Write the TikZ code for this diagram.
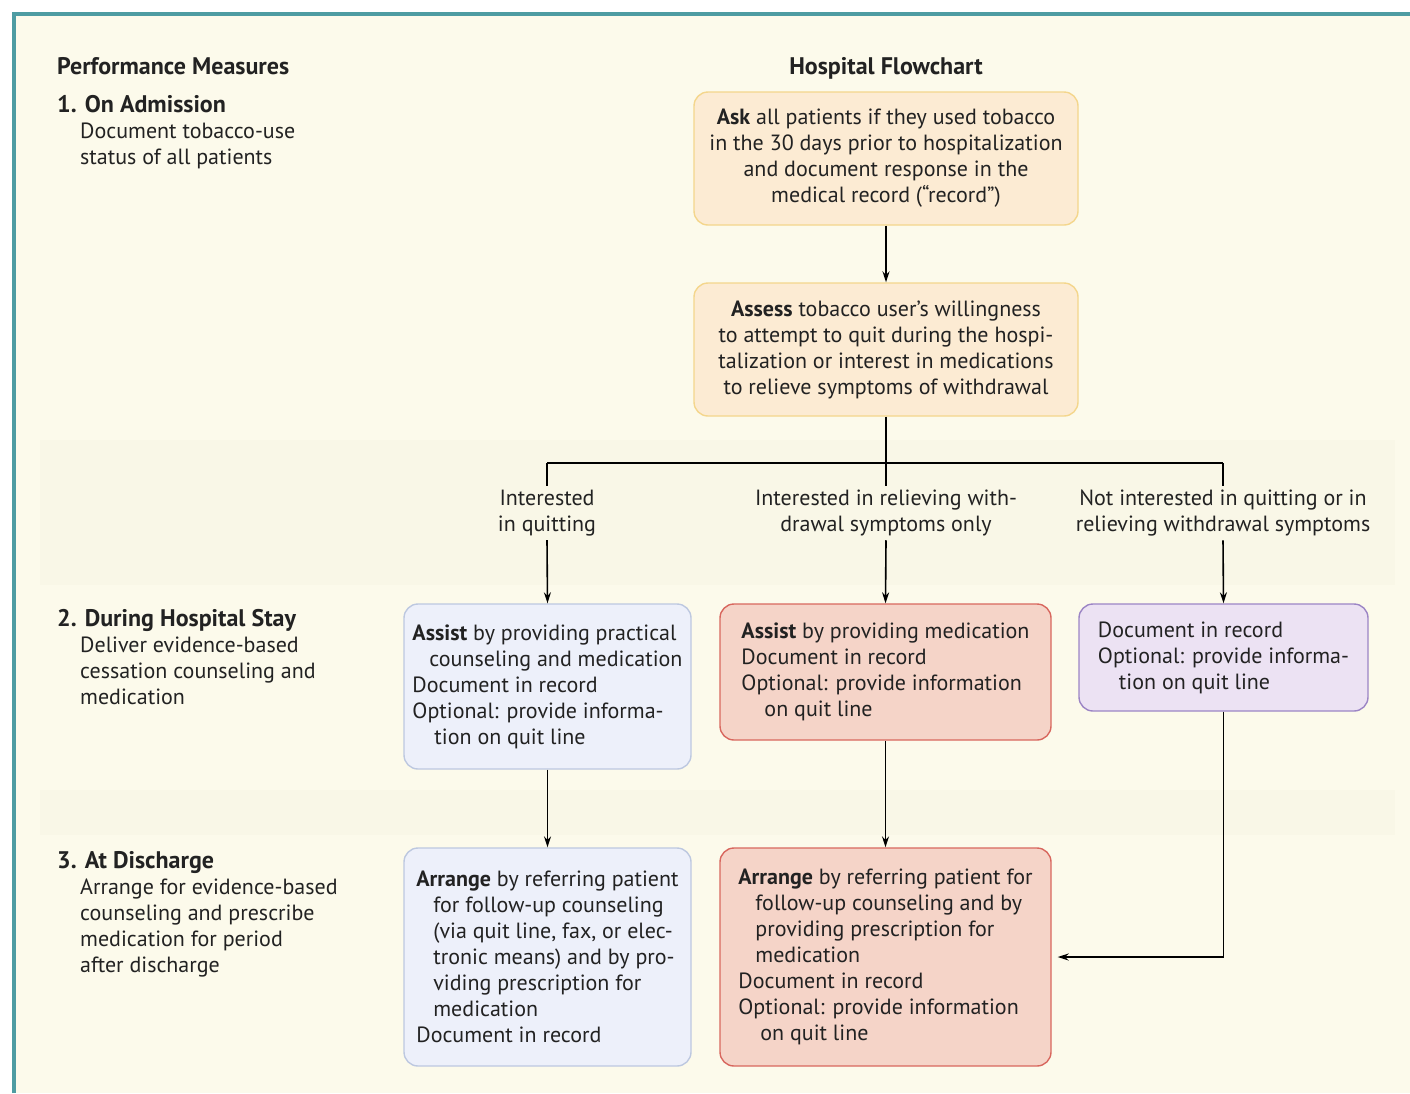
\documentclass[tikz,border=0pt]{standalone}
\usepackage{fontspec}
\setmainfont{PT Sans}
\usepackage{xcolor}
\usetikzlibrary{arrows.meta}

\definecolor{cream}{HTML}{FCFAEB}
\definecolor{band}{HTML}{F9F7E7}
\definecolor{frameteal}{HTML}{4E9CA2}
\definecolor{ink}{HTML}{222222}
\definecolor{askfill}{HTML}{FCEBD3}
\definecolor{askline}{HTML}{F4D68C}
\definecolor{bluefill}{HTML}{EDF0FA}
\definecolor{blueline}{HTML}{BDC8E0}
\definecolor{redfill}{HTML}{F5D4C8}
\definecolor{redline}{HTML}{D8675E}
\definecolor{purplefill}{HTML}{ECE2F3}
\definecolor{purpleline}{HTML}{9C85C5}

\newcommand\bodyfont{\fontsize{22}{26}\selectfont}
\newcommand\headfont{\fontsize{24}{26}\selectfont\bfseries}
\newcommand\ind{\hspace*{17pt}}

\tikzset{
  box/.style={draw, rounded corners=14pt, line width=1.4pt, inner sep=0pt,
    font=\bodyfont, text=ink},
  askbox/.style={box, fill=askfill, draw=askline, align=center,
    minimum width=384pt, minimum height=133pt},
  bluebox/.style={box, fill=bluefill, draw=blueline, align=left},
  redbox/.style={box, fill=redfill, draw=redline, align=left},
  purplebox/.style={box, fill=purplefill, draw=purpleline, align=left},
  choice/.style={font=\bodyfont, text=ink, align=center, inner sep=4pt},
  measure/.style={font=\bodyfont, text=ink, align=left, inner sep=0pt, anchor=north west},
  arr/.style={-{Stealth[length=11pt,width=7pt]}, line width=1.6pt},
  link/.style={line width=1.6pt}
}

\begin{document}
\begin{tikzpicture}[x=1pt,y=-1pt]
  \useasboundingbox (0,0) rectangle (1410,1093);
  \fill[white] (0,0) rectangle (1410,1093);
  \fill[cream] (14,14) rectangle (1410,1093);
  \fill[band] (40,440) rectangle (1395,585);
  \fill[band] (40,790) rectangle (1395,835);
  \draw[frameteal, line width=4pt] (14,1093) -- (14,14) -- (1410,14);

  % performance measures
  \node[font=\headfont, text=ink, inner sep=0pt, anchor=base west] (pm) at (57,74) {Performance Measures};
  \node[measure] (adm) at (57,95) {{\headfont 1. On Admission}\\
    \hspace*{23pt}Document tobacco-use\\ \hspace*{23pt}status of all patients};
  \node[measure] (stay) at (57,609) {{\headfont 2. During Hospital Stay}\\
    \hspace*{23pt}Deliver evidence-based\\ \hspace*{23pt}cessation counseling and\\
    \hspace*{23pt}medication};
  \node[measure] (dis) at (57,851) {{\headfont 3. At Discharge}\\
    \hspace*{23pt}Arrange for evidence-based\\ \hspace*{23pt}counseling and prescribe\\
    \hspace*{23pt}medication for period\\ \hspace*{23pt}after discharge};

  % flowchart
  \node[font=\headfont, text=ink, inner sep=0pt, anchor=base] (hf) at (886,74) {Hospital Flowchart};
  \node[askbox] (ask) at (886,158.5) {\textbf{Ask} all patients if they used tobacco\\
    in the 30 days prior to hospitalization\\ and document response in the\\
    medical record (“record”)};
  \node[askbox] (assess) at (886,349.5) {\textbf{Assess} tobacco user’s willingness\\
    to attempt to quit during the hospi-\\ talization or interest in medications\\
    to relieve symptoms of withdrawal};

  \coordinate (jl) at (547,463);
  \coordinate (jn) at (886,463);
  \coordinate (jr) at (1223,463);

  \node[choice] (quit) at (547,513) {Interested\\in quitting};
  \node[choice] (relief) at (886,513) {Interested in relieving with-\\drawal symptoms only};
  \node[choice] (neither) at (1223,513) {Not interested in quitting or in\\relieving withdrawal symptoms};

  \node[bluebox, minimum width=287pt, minimum height=165pt] (assist1) at (547.5,686.5)
    {\textbf{Assist} by providing practical\\ \ind counseling and medication\\
     Document in record\\ Optional: provide informa-\\ \hspace*{22pt}tion on quit line};
  \node[redbox, minimum width=331pt, minimum height=136pt] (assist2) at (885.5,672)
    {\textbf{Assist} by providing medication\\ Document in record\\
     Optional: provide information\\ \hspace*{23pt}on quit line};
  \node[purplebox, minimum width=289pt, minimum height=107pt] (nohelp) at (1223.5,657.5)
    {Document in record\\ Optional: provide informa-\\ \hspace*{21pt}tion on quit line};

  \node[bluebox, minimum width=287pt, minimum height=218pt] (arrange1) at (547.5,957)
    {\textbf{Arrange} by referring patient\\ \ind for follow-up counseling\\
     \ind (via quit line, fax, or elec-\\ \ind tronic means) and by pro-\\
     \ind viding prescription for\\ \ind medication\\ Document in record};
  \node[redbox, minimum width=331pt, minimum height=218pt] (arrange2) at (885.5,957)
    {\textbf{Arrange} by referring patient for\\ \ind follow-up counseling and by\\
     \ind providing prescription for\\ \ind medication\\ Document in record\\
     Optional: provide information\\ \hspace*{22pt}on quit line};

  % connectors
  \draw[arr] (ask) -- (assess);
  \draw[link] (assess) -- (jn);
  \draw[link] (jl) -- (jr);
  \draw[link] (jl) -- (quit.north);
  \draw[link] (jn) -- (relief.north);
  \draw[link] (jr) -- (neither.north);
  \draw[arr] (quit.south) -- (assist1.north);
  \draw[arr] (relief.south) -- (assist2.north);
  \draw[arr] (neither.south) -- (nohelp.north);
  \draw[arr] (assist1) -- (arrange1);
  \draw[arr] (assist2) -- (arrange2);
  \draw[arr, shorten >=6pt] (nohelp.south) |- (arrange2.east);
\end{tikzpicture}
\end{document}
